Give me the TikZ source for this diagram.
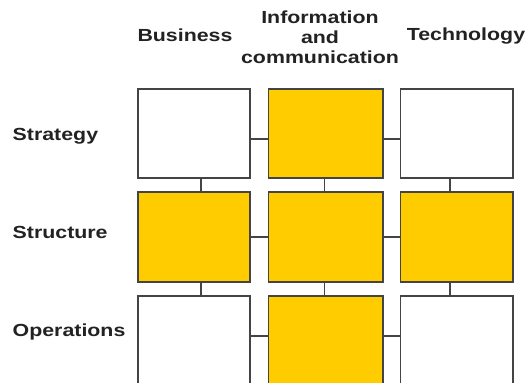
\documentclass[tikz,border=0pt]{standalone}
\usepackage{fontspec}
\setmainfont{Liberation Sans}[FakeStretch=1.22, BoldFeatures={FakeStretch=1.22}]
\definecolor{cellyellow}{HTML}{FFCC00}
\definecolor{edgegray}{HTML}{444444}
\definecolor{inkdark}{HTML}{222222}
\begin{document}
\begin{tikzpicture}[x=1pt, y=-1pt,
  cell/.style={draw=edgegray, line width=1.6pt, fill=white, inner sep=0pt,
               minimum height=89.5pt},
  hot/.style={cell, fill=cellyellow},
  link/.style={draw=edgegray, line width=1.1pt},
  lbl/.style={inner sep=0pt, text=inkdark,
              font=\fontsize{17.5}{20}\selectfont\bfseries},
  rowlbl/.style={lbl, anchor=base west},
  collbl/.style={lbl, anchor=base, align=center}]
\clip (0,0) rectangle (531,383);
\fill[white] (0,0) rectangle (531,383);

% column headings
\node[collbl] (hbus) at (185,41) {Business};
\node[collbl] (hinfo) at (320,63) {Information\\and\\communication};
\node[collbl] (htech) at (466,40) {Technology};

% row headings
\node[rowlbl] (lstrat) at (12.5,140) {Strategy};
\node[rowlbl] (lstruc) at (12.5,238) {Structure};
\node[rowlbl] (loper) at (12.5,336) {Operations};

% grid of cells
\node[cell, minimum width=112pt]   (b11) at (194,133.5) {};
\node[hot,  minimum width=114.5pt] (b12) at (325.75,133.5) {};
\node[cell, minimum width=112.5pt] (b13) at (456.75,133.5) {};
\node[hot,  minimum width=112pt]   (b21) at (194,237) {};
\node[hot,  minimum width=114.5pt] (b22) at (325.75,237) {};
\node[hot,  minimum width=112.5pt] (b23) at (456.75,237) {};
\node[cell, minimum width=112pt]   (b31) at (194,341) {};
\node[hot,  minimum width=114.5pt] (b32) at (325.75,341) {};
\node[cell, minimum width=112.5pt] (b33) at (456.75,341) {};

% horizontal links
\draw[link] ([yshift=-5.5pt]b11.east) -- ([yshift=-5.5pt]b12.west);
\draw[link] ([yshift=-5.5pt]b12.east) -- ([yshift=-5.5pt]b13.west);
\draw[link] (b21.east) -- (b22.west);
\draw[link] (b22.east) -- (b23.west);
\draw[link] ([yshift=5pt]b31.east) -- ([yshift=5pt]b32.west);
\draw[link] ([yshift=5pt]b32.east) -- ([yshift=5pt]b33.west);

% vertical links
\draw[link] ([xshift=7pt]b11.south) -- ([xshift=7pt]b21.north);
\draw[link] ([xshift=-1.5pt]b12.south) -- ([xshift=-1.5pt]b22.north);
\draw[link] ([xshift=-6.75pt]b13.south) -- ([xshift=-6.75pt]b23.north);
\draw[link] ([xshift=7pt]b21.south) -- ([xshift=7pt]b31.north);
\draw[link] ([xshift=-1.5pt]b22.south) -- ([xshift=-1.5pt]b32.north);
\draw[link] ([xshift=-6.75pt]b23.south) -- ([xshift=-6.75pt]b33.north);
\end{tikzpicture}
\end{document}
